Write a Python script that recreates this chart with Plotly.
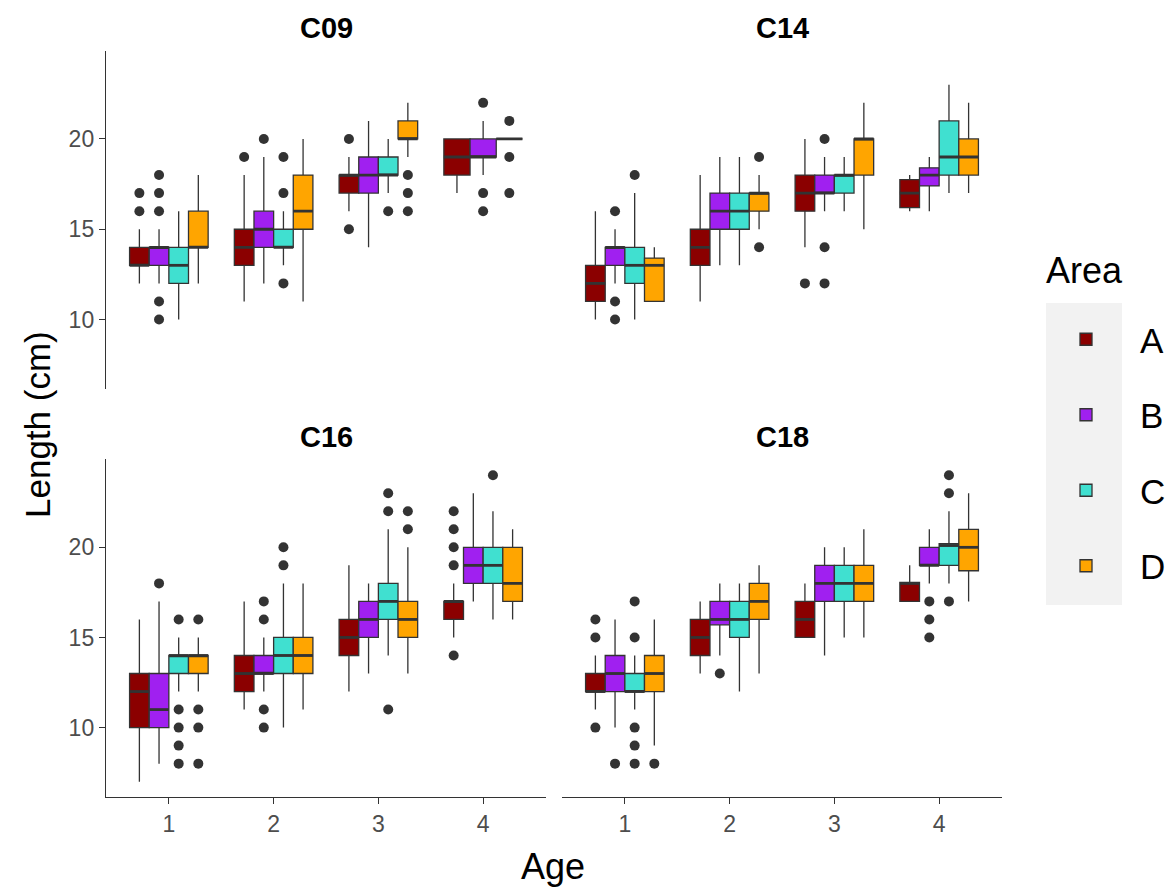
import plotly.graph_objects as go

# ---------------- data ----------------
facets = ["C09", "C14", "C16", "C18"]
ages = [1, 2, 3, 4]
areas = ["A", "B", "C", "D"]
area_colors = ["#8B0000", "#A020F0", "#40E0D0", "#FFA500"]

# rows = Age 1..4, columns = Area A..D  (None = group absent)
c09_q1 = [[13, 13, 12, 14], [13, 14, 14, 15], [17, 17, 18, 20], [18, 19, None, 20]]
c09_med = [[13, 14, 13, 14], [14, 15, 14, 16], [18, 18, 18, 20], [19, 19, None, 20]]
c09_q3 = [[14, 14, 14, 16], [15, 16, 15, 18], [18, 19, 19, 21], [20, 20, None, 20]]
c09_lo = [[12, 12, 10, 12], [11, 12, 13, 11], [16, 14, 17, 19], [17, 18, None, 20]]
c09_hi = [[15, 15, 16, 18], [18, 19, 16, 20], [19, 21, 20, 22], [20, 21, None, 20]]
c09_out = [[[16, 17], [18, 17, 16, 11, 10], [], []],
           [[19], [20], [19, 17, 12], []],
           [[20, 15], [], [16], [18, 17, 16]],
           [[], [22, 17, 16], [], [21, 19, 17]]]

c14_q1 = [[11, 13, 12, 11], [13, 15, 15, 16], [16, 17, 17, 18], [16.2, 17.4, 18, 18]]
c14_med = [[12, 14, 13, 13], [14, 16, 16, 17], [17, 17, 18, 20], [17, 18, 19, 19]]
c14_q3 = [[13, 14, 14, 13.4], [15, 17, 17, 17], [18, 18, 18, 20], [17.75, 18.4, 21, 20]]
c14_lo = [[10, 12, 10, 11], [11, 13, 13, 15], [14, 16, 16, 15], [16, 16, 17, 17]]
c14_hi = [[16, 15, 17, 14], [18, 19, 19, 18], [20, 19, 19, 22], [18, 19, 23, 22]]
c14_out = [[[], [16, 11, 10], [18], []],
           [[], [], [], [19, 14]],
           [[12], [20, 14, 12], [], []],
           [[], [], [], []]]

c16_q1 = [[10, 10, 13, 13], [12, 13, 13, 13], [14, 15, 16, 15], [16, 18, 18, 17]]
c16_med = [[12, 11, 14, 14], [13, 13, 14, 14], [15, 16, 17, 16], [17, 19, 19, 18]]
c16_q3 = [[13, 13, 14, 14], [14, 14, 15, 15], [16, 17, 18, 17], [17, 20, 20, 20]]
c16_lo = [[7, 8, 12, 12], [11, 12, 10, 11], [12, 13, 14, 13], [15, 17, 16, 16]]
c16_hi = [[16, 17, 15, 15], [17, 15, 18, 18], [19, 18, 21, 20], [18, 23, 22, 21]]
c16_out = [[[], [18], [16, 11, 10, 9, 8], [16, 11, 10, 8]],
           [[], [17, 16, 11, 10], [20, 19], []],
           [[], [], [23, 22, 11], [22, 21]],
           [[22, 21, 20, 19, 14], [], [24], []]]

c18_q1 = [[12, 12, 12, 12], [14, 15.7, 15, 16], [15, 17, 17, 17], [17, 19, 19, 18.7]]
c18_med = [[12, 13, 12, 13], [15, 16, 16, 17], [16, 18, 18, 18], [18, 19, 20.1, 20]]
c18_q3 = [[13, 14, 13, 14], [16, 17, 17, 18], [17, 19, 19, 19], [18.05, 20, 20.2, 21]]
c18_lo = [[11, 10, 11, 9], [13, 14, 12, 13], [15, 14, 15, 15], [17, 18, 18, 17]]
c18_hi = [[14, 16, 14, 16], [17, 18, 18, 19], [18, 20, 20, 21], [19, 21, 22, 23]]
c18_out = [[[16, 15, 10], [8], [17, 15, 10, 9, 8], [8]],
           [[], [13], [], []],
           [[], [], [], []],
           [[], [17, 16, 15], [24, 23, 17], []]]

y_ticks = [10, 15, 20]

# ---------------- figure ----------------
W, H = 1174, 890
DODGE = 0.75
LINE = "#333333"

stats = {
    "C09": (c09_q1, c09_med, c09_q3, c09_lo, c09_hi, c09_out),
    "C14": (c14_q1, c14_med, c14_q3, c14_lo, c14_hi, c14_out),
    "C16": (c16_q1, c16_med, c16_q3, c16_lo, c16_hi, c16_out),
    "C18": (c18_q1, c18_med, c18_q3, c18_lo, c18_hi, c18_out),
}
axis_ids = {"C09": "", "C14": "2", "C16": "3", "C18": "4"}

fig = go.Figure()
legend_done = set()

for f in facets:
    q1, med, q3, lo, hi, out = stats[f]
    ax = axis_ids[f]
    xref, yref = "x" + ax, "y" + ax
    mx, my = [], []
    ox, oy = [], []
    for ai, age in enumerate(ages):
        present = [k for k in range(len(areas)) if q1[ai][k] is not None]
        n = len(present)
        w = DODGE / n
        for j, k in enumerate(present):
            xc = age - DODGE / 2 + (j + 0.5) * w
            show = areas[k] not in legend_done
            legend_done.add(areas[k])
            fig.add_trace(go.Box(
                x=[xc], q1=[q1[ai][k]], median=[med[ai][k]], q3=[q3[ai][k]],
                lowerfence=[lo[ai][k]], upperfence=[hi[ai][k]],
                orientation="v", width=w, whiskerwidth=0, boxpoints=False,
                fillcolor=area_colors[k], line=dict(color=LINE, width=1.3),
                name=areas[k], legendgroup=areas[k], showlegend=show,
                hoverinfo="skip", xaxis=xref, yaxis=yref,
            ))
            mx += [xc - w / 2, xc + w / 2, None]
            my += [med[ai][k], med[ai][k], None]
            for v in out[ai][k]:
                ox.append(xc)
                oy.append(v)
    fig.add_trace(go.Scatter(x=mx, y=my, mode="lines", line=dict(color=LINE, width=2.8),
                             showlegend=False, hoverinfo="skip", xaxis=xref, yaxis=yref))
    fig.add_trace(go.Scatter(x=ox, y=oy, mode="markers",
                             marker=dict(color=LINE, size=10, line=dict(width=0)),
                             showlegend=False, hoverinfo="skip", xaxis=xref, yaxis=yref))

# panel domains (pixels -> paper)
xl = [106 / W, 546 / W]
xr = [562 / W, 1002 / W]
yt = [1 - 389 / H, 1 - 50.5 / H]
yb = [1 - 797 / H, 1 - 459 / H]

FONT = "Liberation Sans, Arial, sans-serif"
TICKFONT = dict(family=FONT, size=23, color="#4D4D4D")

def xaxis(domain, anchor, bottom):
    return dict(domain=domain, anchor=anchor, range=[0.4, 4.6],
                tickvals=ages, ticktext=[str(a) for a in ages],
                showline=bottom, linecolor=LINE, linewidth=1.4,
                ticks="outside" if bottom else "", ticklen=6, tickcolor=LINE, tickwidth=1.4,
                showticklabels=bottom, tickfont=TICKFONT,
                showgrid=False, zeroline=False, fixedrange=True)

def yaxis(domain, anchor, left):
    return dict(domain=domain, anchor=anchor, range=[6.15, 24.9],
                tickvals=y_ticks, ticktext=[str(t) for t in y_ticks],
                showline=left, linecolor=LINE, linewidth=1.4,
                ticks="outside" if left else "", ticklen=6, tickcolor=LINE, tickwidth=1.4,
                showticklabels=left, tickfont=TICKFONT,
                showgrid=False, zeroline=False, fixedrange=True)

fig.update_layout(
    width=W, height=H, margin=dict(l=0, r=0, t=0, b=0),
    paper_bgcolor="white", plot_bgcolor="white",
    boxmode="overlay",
    xaxis=xaxis(xl, "y", False), yaxis=yaxis(yt, "x", True),
    xaxis2=xaxis(xr, "y2", False), yaxis2=yaxis(yt, "x2", False),
    xaxis3=xaxis(xl, "y3", True), yaxis3=yaxis(yb, "x3", True),
    xaxis4=xaxis(xr, "y4", True), yaxis4=yaxis(yb, "x4", False),
    legend=dict(
        font=dict(family=FONT, size=35, color="black"),
        x=1032 / W, y=1 - 310 / H, xanchor="left", yanchor="top",
        traceorder="grouped", tracegroupgap=27, itemwidth=98,
        bgcolor="rgba(0,0,0,0)",
    ),
    font=dict(family=FONT),
    shapes=[dict(type="rect", xref="paper", yref="paper", layer="below",
                 x0=1046 / W, x1=1122 / W, y0=1 - 605 / H, y1=1 - 303 / H,
                 fillcolor="#F2F2F2", line=dict(width=0))],
)

annotations = []
for f, dom_x, top in [("C09", xl, True), ("C14", xr, True), ("C16", xl, False), ("C18", xr, False)]:
    annotations.append(dict(
        text="<b>" + f + "</b>", xref="paper", yref="paper",
        x=(dom_x[0] + dom_x[1]) / 2, y=1 - (28 if top else 437) / H,
        xanchor="center", yanchor="middle", showarrow=False,
        font=dict(family=FONT, size=29, color="black"),
    ))
annotations.append(dict(text="Length (cm)", xref="paper", yref="paper",
                        x=38 / W, y=1 - 425 / H, textangle=-90,
                        xanchor="center", yanchor="middle", showarrow=False,
                        font=dict(family=FONT, size=35, color="black")))
annotations.append(dict(text="Age", xref="paper", yref="paper",
                        x=553 / W, y=1 - 866 / H,
                        xanchor="center", yanchor="middle", showarrow=False,
                        font=dict(family=FONT, size=36, color="black")))
annotations.append(dict(text="Area", xref="paper", yref="paper",
                        x=1044 / W, y=1 - 270 / H,
                        xanchor="left", yanchor="middle", showarrow=False,
                        font=dict(family=FONT, size=36, color="black")))
fig.update_layout(annotations=annotations)

fig.write_html("out.html")
